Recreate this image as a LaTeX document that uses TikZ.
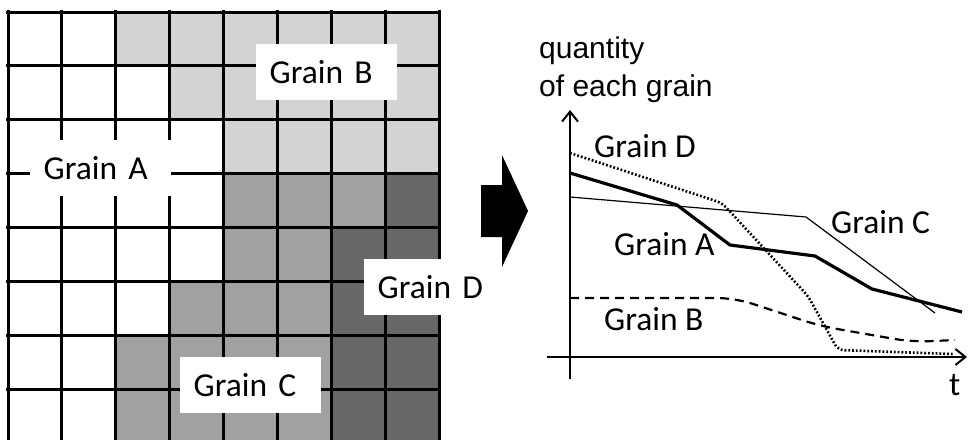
\documentclass[tikz,border=0pt]{standalone}
\usepackage{fontspec}
\setmainfont{Carlito}
\newfontfamily\axisfont{Liberation Sans}
\usetikzlibrary{arrows.meta}
\definecolor{grainB}{HTML}{D3D3D3}
\definecolor{grainC}{HTML}{A1A1A1}
\definecolor{grainD}{HTML}{676767}
\tikzset{
  grainbox/.style={fill=white, font=\fontsize{33.5}{33.5}\selectfont,
    text width=114pt, align=left, inner xsep=13.5pt, inner ysep=0pt,
    minimum height=56pt, anchor=north west},
  plotlabel/.style={font=\fontsize{33.5}{33.5}\selectfont, inner sep=0pt, anchor=base west},
  axisline/.style={line width=2pt, -{Straight Barb[length=10pt,width=16pt,line width=2pt]}},
  curveA/.style={line width=3.2pt, line join=round},
  curveB/.style={line width=2.2pt, dash pattern=on 9pt off 6pt},
  curveC/.style={line width=1.2pt},
  curveD/.style={line width=2.6pt, dash pattern=on 1.8pt off 2pt},
  gridline/.style={line width=3pt},
}
\begin{document}
\begin{tikzpicture}[x=1pt,y=-1pt]
\useasboundingbox (0,0) rectangle (968,439);
\clip (0,0) rectangle (968,439);

% ---- 8x8 cell map of the four grains ----
\begin{scope}[shift={(8,12)}, x=53.875pt, y=-53.9pt]
  % grain B (light)
  \fill[grainB] (2,0) rectangle (8,1);
  \fill[grainB] (3,1) rectangle (8,2);
  \fill[grainB] (4,2) rectangle (8,3);
  % grain C (medium)
  \fill[grainC] (4,3) rectangle (7,4);
  \fill[grainC] (4,4) rectangle (6,5);
  \fill[grainC] (3,5) rectangle (6,6);
  \fill[grainC] (2,6) rectangle (6,8);
  % grain D (dark)
  \fill[grainD] (7,3) rectangle (8,4);
  \fill[grainD] (6,4) rectangle (8,8);
  % cell boundaries
  \foreach \i in {0,...,8} {
    \draw[gridline] (\i,-0.03) -- (\i,8.03);
    \draw[gridline] (-0.03,\i) -- (8.03,\i);
  }
\end{scope}

% ---- grain labels on the map ----
\node[grainbox] (labA) at (30,140) {Grain A};
\node[grainbox] (labB) at (256,44) {Grain B};
\node[grainbox] (labC) at (180,357) {Grain C};
\node[grainbox] (labD) at (364,259) {Grain D};

% ---- block arrow ----
\fill (481,185) -- (502,185) -- (502,155) -- (528,211) -- (502,267)
      -- (502,237) -- (481,237) -- cycle;

% ---- plot axes ----
\coordinate (yfoot) at (570,379);
\coordinate (ytop) at (570,110);
\coordinate (xstart) at (547,357);
\coordinate (xend) at (967,357);
\draw[axisline] (yfoot) -- (ytop);
\draw[axisline] (xstart) -- (xend);

\node[inner sep=0pt, anchor=base west, align=left,
      font=\axisfont\fontsize{30}{38}\selectfont] (ylab) at (539,96)
  {quantity\\of each grain};
\node[plotlabel] (tlab) at (949,395) {t};

% ---- quantity curves ----
\draw[curveC] (570,197) -- (806,217) -- (935,313);
\draw[curveD, rounded corners=6pt] (570,153) -- (722,203) -- (808,296)
      -- (838,350) -- (953,354);
\draw[curveB, rounded corners=18pt] (570,298) -- (735,298) -- (820,326)
      -- (912,342) -- (955,340);
\draw[curveA] (570,173) -- (677,205) -- (730,245) -- (815,256)
      -- (872,289) -- (962,312);

% ---- curve labels ----
\node[plotlabel] (pD) at (594,157) {Grain D};
\node[plotlabel] (pA) at (614,255) {Grain A};
\node[plotlabel] (pB) at (604,330) {Grain B};
\node[plotlabel] (pC) at (831,233) {Grain C};
\end{tikzpicture}
\end{document}
